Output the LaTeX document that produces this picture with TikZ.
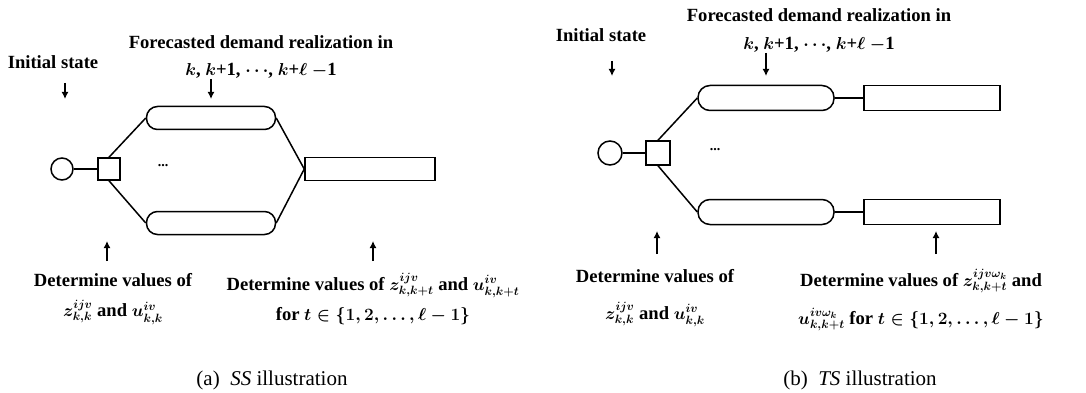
\documentclass[tikz,border=0pt]{standalone}
\usepackage{fontspec}
\setmainfont{Liberation Serif}
\usetikzlibrary{arrows.meta}

\tikzset{
	state/.style={draw, circle, inner sep=0pt},
	decision/.style={draw, rectangle, inner sep=0pt},
	scenario/.style={draw, rectangle, rounded corners=11pt, inner sep=0pt},
	stagebox/.style={draw, rectangle, inner sep=0pt},
	lbl/.style={font=\bfseries\boldmath\fontsize{18.6}{27}\selectfont, align=center, inner sep=0pt},
	ptr/.style={-{Latex[length=7pt,width=7pt]}, line width=1.6pt},
	subcap/.style={font=\fontsize{21}{24}\selectfont, inner sep=0pt},
}

\begin{document}
\begin{tikzpicture}[x=1pt, y=-1pt, line width=1.5pt]
	\useasboundingbox (0,0) rectangle (1086,393);
	
	% (a) SS illustration
	\node[state, minimum size=22pt] (s0a) at (62,169) {};
	\node[decision, minimum size=22pt] (d0a) at (109,169) {};
	\node[scenario, minimum width=129pt, minimum height=23pt] (upa) at (211,118) {};
	\node[scenario, minimum width=129pt, minimum height=23pt] (lwa) at (211,223) {};
	\node[stagebox, minimum width=130pt, minimum height=23pt] (rsa) at (370,169) {};
	\node[font=\bfseries\fontsize{14}{14}\selectfont] (dota) at (163,166) {...};
	
	\draw (s0a) -- (d0a);
	\draw (d0a.north) -- (upa.west);
	\draw (d0a.south) -- (lwa.west);
	\draw (upa.east) -- (rsa.west);
	\draw (lwa.east) -- (rsa.west);
	
	\node[lbl] (inita) at (53,62) {Initial state};
	\node[lbl, font=\bfseries\boldmath\fontsize{18.6}{27}\selectfont] (forea) at (261,57) {Forecasted demand realization in\\
		$k$, $k$+1, $\cdots$, $k$+$\ell$ $-$1};
	\node[lbl, font=\bfseries\boldmath\fontsize{18.6}{30}\selectfont] (deta) at (113,299)
		{Determine values of\\ $z^{ijv}_{k,k}$ and $u^{iv}_{k,k}$};
	\node[lbl, font=\bfseries\boldmath\fontsize{18.6}{30}\selectfont] (detb) at (373,299)
		{Determine values of $z^{ijv}_{k,k+t}$ and $u^{iv}_{k,k+t}$\\
		for $t\in\{1, 2, \dots, \ell-1\}$};
	
	\coordinate (ia1) at (65,83);   \coordinate (ia2) at (65,99);
	\coordinate (fa1) at (211,79);  \coordinate (fa2) at (211,99);
	\coordinate (da1) at (107,261); \coordinate (da2) at (107,241);
	\coordinate (db1) at (373,261); \coordinate (db2) at (373,241);
	\draw[ptr] (ia1) -- (ia2);
	\draw[ptr] (fa1) -- (fa2);
	\draw[ptr] (da1) -- (da2);
	\draw[ptr] (db1) -- (db2);
	
	\node[subcap] (capa) at (272,380) {(a)\enspace\textit{SS} illustration};
	
	% (b) TS illustration
	\node[state, minimum size=24pt] (s0b) at (610,153) {};
	\node[decision, minimum size=24pt] (d0b) at (658,153) {};
	\node[scenario, minimum width=136pt, minimum height=25pt, rounded corners=12pt] (upb) at (766,98) {};
	\node[scenario, minimum width=136pt, minimum height=25pt, rounded corners=12pt] (lwb) at (766,212) {};
	\node[stagebox, minimum width=136pt, minimum height=25pt] (rub) at (932,98) {};
	\node[stagebox, minimum width=136pt, minimum height=25pt] (rlb) at (932,212) {};
	\node[font=\bfseries\fontsize{14}{14}\selectfont] (dotb) at (715,150) {...};
	
	\draw (s0b) -- (d0b);
	\draw (d0b.north) -- (upb.west);
	\draw (d0b.south) -- (lwb.west);
	\draw (upb) -- (rub);
	\draw (lwb) -- (rlb);
	
	\node[lbl] (initb) at (601,35) {Initial state};
	\node[lbl, font=\bfseries\boldmath\fontsize{18.6}{28}\selectfont] (foreb) at (819,30) {Forecasted demand realization in\\
		$k$, $k$+1, $\cdots$, $k$+$\ell$ $-$1};
	\node[lbl, font=\bfseries\boldmath\fontsize{18.6}{37}\selectfont] (detc) at (655,298)
		{Determine values of\\ $z^{ijv}_{k,k}$ and $u^{iv}_{k,k}$};
	\node[lbl, font=\bfseries\boldmath\fontsize{18.6}{38}\selectfont] (detd) at (921,300)
		{Determine values of $z^{ijv\omega_k}_{k,k+t}$ and\\
		$u^{iv\omega_k}_{k,k+t}$ for $t\in\{1, 2, \dots, \ell-1\}$};
	
	\coordinate (ib1) at (612,61);  \coordinate (ib2) at (612,76);
	\coordinate (fb1) at (766,53);  \coordinate (fb2) at (766,76);
	\coordinate (dc1) at (657,254); \coordinate (dc2) at (657,231);
	\coordinate (dd1) at (936,254); \coordinate (dd2) at (936,231);
	\draw[ptr] (ib1) -- (ib2);
	\draw[ptr] (fb1) -- (fb2);
	\draw[ptr] (dc1) -- (dc2);
	\draw[ptr] (dd1) -- (dd2);
	
	\node[subcap] (capb) at (860,380) {(b)\enspace\textit{TS} illustration};
\end{tikzpicture}
\end{document}
